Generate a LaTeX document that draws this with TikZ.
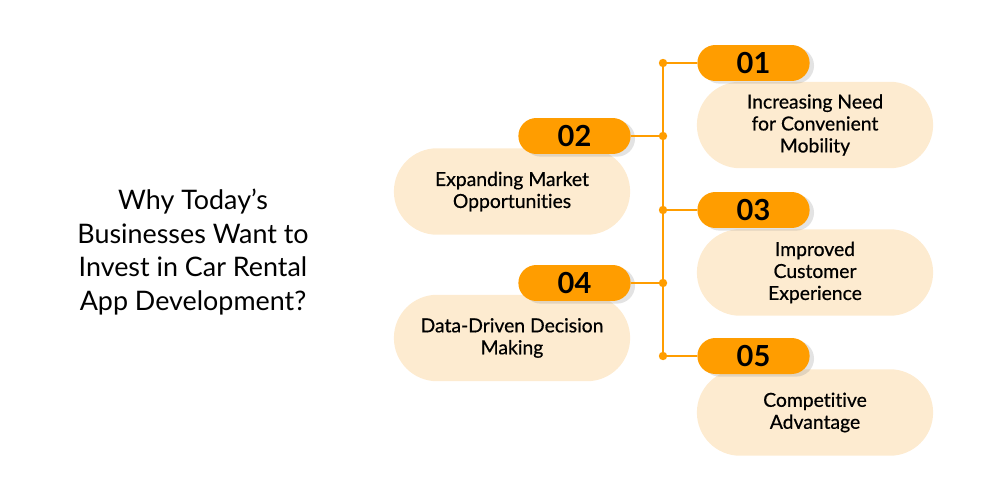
\documentclass[tikz,border=0pt]{standalone}
\usepackage{fontspec}
\setmainfont{Lato}
\newfontfamily\pillfont[FakeBold=0.6,Ligatures=NoCommon]{Lato}
\usepackage{tikz}
\usetikzlibrary{shapes.misc,shadows,positioning}
\definecolor{rentorange}{RGB}{255,157,0}
\definecolor{rentcream}{RGB}{253,235,208}

\begin{document}
\begin{tikzpicture}[x=0.02cm,y=-0.02cm,
    numpill/.style={rounded rectangle, fill=rentorange, minimum width=2.48cm,
      minimum height=0.72cm, font=\fontsize{16.5}{18}\selectfont\bfseries,
      drop shadow={opacity=0.22, shadow xshift=2.5pt, shadow yshift=-1.5pt}},
    textpill/.style={rounded rectangle, fill=rentcream, minimum width=4.96cm,
      minimum height=1.73cm, align=center, font=\fontsize{11}{12.5}\selectfont\pillfont},
    link/.style={rentorange, line width=1.4pt}]
    \useasboundingbox (0,0) rectangle (1000,500);
    % Title
    \node[align=center, font=\fontsize{15.3}{19}\selectfont] (title) at (193,252)
      {Why Today’s\\Businesses Want to\\Invest in Car Rental\\App Development?};
    % Text pills
    \node[textpill] (b1) at (815,125) {Increasing Need\\for Convenient\\Mobility};
    \node[textpill] (b2) at (512,191.5) {Expanding Market\\Opportunities};
    \node[textpill] (b3) at (815,272.5) {Improved\\Customer\\Experience};
    \node[textpill] (b4) at (512,338) {Data-Driven Decision\\Making};
    \node[textpill] (b5) at (815,412.5) {Competitive\\Advantage};
    % Spine with dots
    \coordinate (d1) at (663,63);
    \coordinate (d2) at (663,136);
    \coordinate (d3) at (663,210);
    \coordinate (d4) at (663,283);
    \coordinate (d5) at (663,356);
    \draw[link] (d1) -- (d5);
    % Number pills
    \node[numpill] (n1) at (753.5,63) {01};
    \node[numpill] (n2) at (574.5,136) {02};
    \node[numpill] (n3) at (753.5,210) {03};
    \node[numpill] (n4) at (574.5,283) {04};
    \node[numpill] (n5) at (753.5,356) {05};
    \draw[link] (d1) -- (n1.west);
    \draw[link] (d2) -- (n2.east);
    \draw[link] (d3) -- (n3.west);
    \draw[link] (d4) -- (n4.east);
    \draw[link] (d5) -- (n5.west);
    \foreach \d in {d1,d2,d3,d4,d5}
      \fill[rentorange] (\d) circle (4.2);
\end{tikzpicture}
\end{document}
